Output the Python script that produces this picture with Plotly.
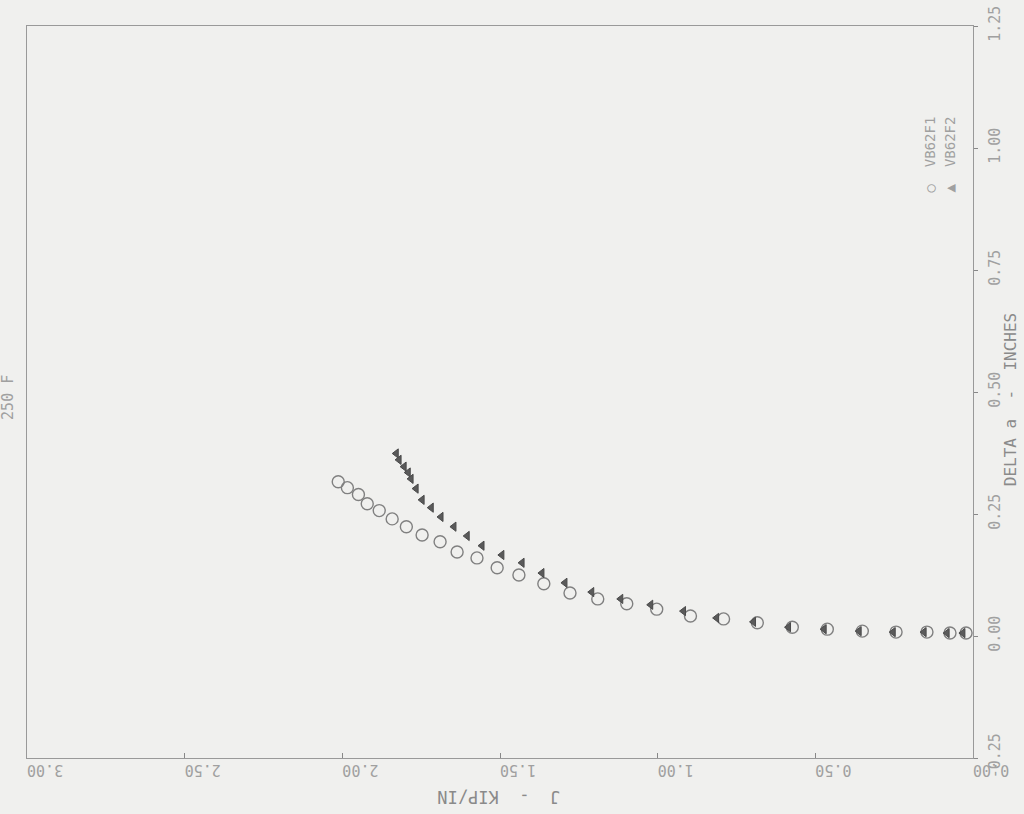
import plotly.graph_objects as go

# VB62F1 (circles): J (kip/in) vs Delta a (inches)
j_f1 = [2.013, 1.984, 1.949, 1.921, 1.883, 1.842, 1.797, 1.747, 1.690, 1.636,
        1.573, 1.509, 1.440, 1.361, 1.278, 1.190, 1.098, 1.003, 0.896, 0.791,
        0.684, 0.573, 0.462, 0.351, 0.244, 0.146, 0.073, 0.022]
da_f1 = [0.316, 0.304, 0.290, 0.271, 0.257, 0.240, 0.224, 0.207, 0.193, 0.172,
         0.160, 0.140, 0.125, 0.107, 0.088, 0.076, 0.066, 0.055, 0.041, 0.035,
         0.027, 0.018, 0.014, 0.010, 0.008, 0.008, 0.006, 0.006]

# VB62F2 (triangles)
j_f2 = [1.829, 1.820, 1.804, 1.791, 1.782, 1.766, 1.747, 1.718, 1.687, 1.646,
        1.604, 1.557, 1.494, 1.430, 1.367, 1.294, 1.209, 1.117, 1.022, 0.918,
        0.813, 0.696, 0.585, 0.472, 0.361, 0.253, 0.155, 0.082, 0.032]
da_f2 = [0.374, 0.361, 0.347, 0.335, 0.322, 0.302, 0.279, 0.263, 0.244, 0.224,
         0.205, 0.185, 0.166, 0.150, 0.129, 0.109, 0.090, 0.076, 0.064, 0.051,
         0.037, 0.029, 0.018, 0.014, 0.010, 0.008, 0.008, 0.006, 0.006]

j_ticks = [3.0, 2.5, 2.0, 1.5, 1.0, 0.5, 0.0]
j_labels = ["3.00", "2.50", "2.00", "1.50", "1.00", "0.50", "0.00"]
da_ticks = [-0.25, 0.0, 0.25, 0.5, 0.75, 1.0, 1.25]
da_labels = ["-0.25", "0.00", "0.25", "0.50", "0.75", "1.00", "1.25"]

BG = "#f0f0ee"
INK = "#a0a0a0"
FONT = "DejaVu Sans Mono"

fig = go.Figure()
fig.add_trace(go.Scatter(
    x=j_f1, y=da_f1, mode="markers", name="VB62F1",
    marker=dict(symbol="circle-open", size=12, color="#808080", line=dict(width=1.4)),
))
fig.add_trace(go.Scatter(
    x=j_f2, y=da_f2, mode="markers", name="VB62F2",
    marker=dict(symbol="triangle-left", size=8, color="#5a5a5a",
                line=dict(width=1, color="#4a4a4a")),
))

fig.update_layout(
    width=1024, height=814,
    margin=dict(l=27, r=51, t=26, b=56),
    paper_bgcolor=BG, plot_bgcolor=BG,
    showlegend=False,
    font=dict(family=FONT, color=INK, size=14),
    xaxis=dict(
        range=[3.0, 0.0], tickvals=j_ticks, ticktext=j_labels,
        tickangle=180, ticks="inside", ticklen=5, tickcolor="#888",
        ticklabelstandoff=3, automargin=False,
        showgrid=False, zeroline=False,
        showline=True, linecolor="#999", linewidth=1.2, mirror=True,
        tickfont=dict(family=FONT, color=INK, size=15),
    ),
    yaxis=dict(
        range=[-0.25, 1.25], tickvals=da_ticks, ticktext=da_labels,
        side="right", tickangle=-90, ticks="outside", ticklen=4, tickcolor="#888",
        ticklabelstandoff=4, automargin=False,
        showgrid=False, zeroline=False,
        showline=True, linecolor="#999", linewidth=1.2, mirror=True,
        tickfont=dict(family=FONT, color=INK, size=15),
    ),
)

fig.add_annotation(text="J  -  KIP/IN", xref="paper", yref="paper", x=0.499, y=-0.053,
                   xanchor="center", yanchor="middle", showarrow=False, textangle=180,
                   font=dict(family=FONT, color="#8a8a8a", size=17))
fig.add_annotation(text="DELTA a  -  INCHES", xref="paper", yref="paper", x=1.039, y=0.49,
                   xanchor="center", yanchor="middle", showarrow=False, textangle=-90,
                   font=dict(family=FONT, color="#8a8a8a", size=16))
fig.add_annotation(text="250 F", xref="paper", yref="paper", x=-0.02, y=0.492,
                   xanchor="center", yanchor="middle", showarrow=False, textangle=-90,
                   font=dict(family=FONT, color=INK, size=15))
fig.add_annotation(text="○  VB62F1", xref="paper", yref="paper", x=0.955, y=0.825,
                   xanchor="center", yanchor="middle", showarrow=False, textangle=-90,
                   font=dict(family=FONT, color=INK, size=14))
fig.add_annotation(text="▲  VB62F2", xref="paper", yref="paper", x=0.976, y=0.825,
                   xanchor="center", yanchor="middle", showarrow=False, textangle=-90,
                   font=dict(family=FONT, color=INK, size=14))

fig.write_html("out.html")
